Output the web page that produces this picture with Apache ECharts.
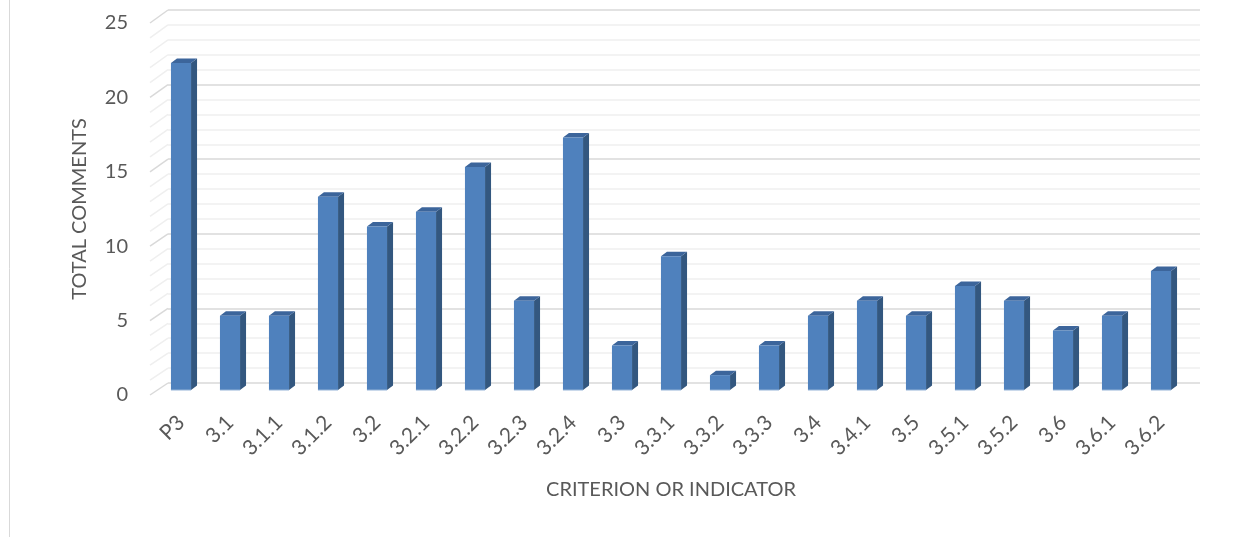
<!DOCTYPE html>
<html>
<head>
<meta charset="utf-8">
<script src="https://cdn.jsdelivr.net/npm/echarts@6/dist/echarts.min.js"></script>
<style>
html,body{margin:0;padding:0;background:#fff;}
#c{width:1241px;height:537px;}
</style>
</head>
<body>
<div id="c"></div>
<script>
const categories = ['P3','3.1','3.1.1','3.1.2','3.2','3.2.1','3.2.2','3.2.3','3.2.4','3.3','3.3.1','3.3.2','3.3.3','3.4','3.4.1','3.5','3.5.1','3.5.2','3.6','3.6.1','3.6.2'];
const totalComments = [22,5,5,13,11,12,15,6,17,3,9,1,3,5,6,5,7,6,4,5,8];
const yMin = 0, yMax = 25, yStep = 5, yMinorSplit = 5;

const chart = echarts.init(document.getElementById('c'), null, {renderer:'canvas'});
const FONT = 'Lato';
const TXT = '#595959';
const DX = 6, DY = -4.5;

const option = {
  animation: false,
  backgroundColor: '#fff',
  grid: [
    {left:168, right:41, top:10, bottom:154},      // back wall
    {left:156.5, right:55.5, top:18.5, bottom:147}, // bars plane
    {left:150, right:59, top:23, bottom:142}       // front plane (labels)
  ],
  xAxis: [
    {gridIndex:0, type:'value', min:0, max:1, show:false},
    {gridIndex:1, type:'category', data:categories,
     axisLine:{show:false}, axisTick:{show:false},
     axisLabel:{rotate:45, margin:29, fontFamily:FONT, fontSize:21, color:TXT, interval:0},
     name:'CRITERION OR INDICATOR', nameLocation:'middle', nameGap:90,
     nameTextStyle:{fontFamily:FONT, fontSize:20, color:TXT}},
    {gridIndex:2, type:'value', min:0, max:1, show:false}
  ],
  yAxis: [
    {gridIndex:0, type:'value', min:yMin, max:yMax, interval:yStep,
     axisLabel:{show:false}, axisLine:{show:false}, axisTick:{show:false},
     splitLine:{show:true, lineStyle:{color:'#d9d9d9', width:1.5}},
     minorTick:{show:false, splitNumber:yMinorSplit},
     minorSplitLine:{show:true, lineStyle:{color:'#efefef', width:1.5}}},
    {gridIndex:1, type:'value', min:yMin, max:yMax, interval:yStep, show:false},
    {gridIndex:2, type:'value', min:yMin, max:yMax, interval:yStep,
     axisLine:{show:false}, axisTick:{show:false}, splitLine:{show:false},
     axisLabel:{margin:22, fontFamily:FONT, fontSize:20, color:TXT},
     name:'TOTAL COMMENTS', nameLocation:'middle', nameGap:60,
     nameTextStyle:{fontFamily:FONT, fontSize:20, color:TXT}}
  ],
  series: [{
    type:'custom',
    xAxisIndex:1, yAxisIndex:1,
    data: totalComments.map((v,i)=>[i,v]),
    renderItem: function(params, api){
      const i = api.value(0), v = api.value(1);
      const b = api.coord([i, 0]);
      const t = api.coord([i, v]);
      const w = api.size([1,0])[0]*0.41;
      const x = b[0]-w/2;
      return {type:'group', children:[
        {type:'polygon', shape:{points:[[x+w,t[1]],[x+w+DX,t[1]+DY],[x+w+DX,b[1]+DY],[x+w,b[1]]]},
         style:{fill:'#33577f'}},
        {type:'polygon', shape:{points:[[x,t[1]],[x+DX,t[1]+DY],[x+w+DX,t[1]+DY],[x+w,t[1]]]},
         style:{fill:'#3c659b'}},
        {type:'rect', shape:{x:x, y:t[1], width:w, height:b[1]-t[1]},
         style:{fill:'#4f81bd'}},
        {type:'line', shape:{x1:x, y1:b[1], x2:x+w, y2:b[1]},
         style:{stroke:'#95b3d7', lineWidth:1}}
      ]};
    }
  }]
};
chart.setOption(option);

// left side-wall lines, joining the front plane to the back wall
const wall = [];
for (let v = yMin; v <= yMax + 1e-9; v += yStep / yMinorSplit) {
  const p1 = chart.convertToPixel({xAxisIndex:2, yAxisIndex:2}, [0, v]);
  const p2 = chart.convertToPixel({xAxisIndex:0, yAxisIndex:0}, [0, v]);
  const major = Math.abs(v/yStep - Math.round(v/yStep)) < 1e-6;
  wall.push({type:'line', z:-1, shape:{x1:p1[0], y1:p1[1], x2:p2[0], y2:p2[1]},
    style:{stroke: major ? '#d9d9d9' : '#efefef', lineWidth:1.5}});
}
wall.push({type:'line', shape:{x1:9.5, y1:0, x2:9.5, y2:537}, style:{stroke:'#d9d9d9', lineWidth:1}});
chart.setOption({graphic: wall});
</script>
</body>
</html>
